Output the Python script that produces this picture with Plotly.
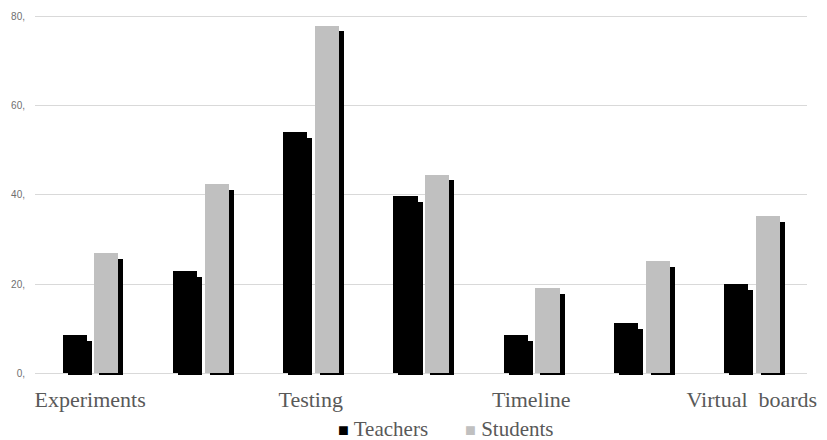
import plotly.graph_objects as go

# Categories (only every other label is printed on the axis)
category_labels = ["Experiments", "", "Testing", "", "Timeline", "", "Virtual\u00a0 boards"]
teachers = [8.6, 22.9, 54.1, 39.7, 8.6, 11.2, 20.0]
students = [26.9, 42.4, 77.9, 44.5, 19.1, 25.2, 35.2]
y_ticks = [0, 20, 40, 60, 80]

series = [
    ("Teachers", teachers, "#000000", -0.25),
    ("Students", students, "#c0c0c0", 0.038),
]

x = list(range(len(category_labels)))
bar_w = 0.219          # bar width in category units
shadow_dx = 0.045      # horizontal shift of the drop shadow
shadow_top = 1.25      # shadow top sits this far below the bar top
shadow_base = -0.45    # shadow reaches a little below zero

fig = go.Figure()

# Drop shadows first so the bars sit on top of them
for name, vals, color, off in series:
    fig.add_trace(go.Bar(
        x=x, y=[v - shadow_top - shadow_base for v in vals], base=shadow_base,
        offset=off + shadow_dx, width=bar_w,
        marker=dict(color="#000000", line=dict(width=0)),
        showlegend=False, hoverinfo="skip",
    ))

for name, vals, color, off in series:
    fig.add_trace(go.Bar(
        x=x, y=vals, name=name,
        offset=off, width=bar_w,
        marker=dict(color=color, line=dict(width=0)),
        showlegend=False,
    ))

# Legend drawn as text rows under the axis
legend_x = [0.390, 0.555]
for (name, vals, color, off), lx in zip(series, legend_x):
    fig.add_annotation(
        xref="paper", yref="paper", x=lx, y=-0.143,
        xanchor="left", yanchor="middle", showarrow=False,
        text=f"<span style='color:{color};font-size:18px'>■</span> {name}",
        font=dict(family="Liberation Serif", size=21, color="#595959"),
    )

fig.update_layout(
    width=827, height=440,
    margin=dict(l=32, r=11, t=13.7, b=63.4),
    paper_bgcolor="white", plot_bgcolor="white",
    barmode="overlay",
    bargap=0,
)
fig.update_xaxes(
    range=[-0.5, len(x) - 0.5],
    tickvals=[i for i, lab in zip(x, category_labels) if lab],
    ticktext=[lab for lab in category_labels if lab],
    tickfont=dict(family="Liberation Serif", size=22, color="#595959"),
    ticklabelstandoff=7,
    showgrid=False, showline=False, zeroline=False, ticks="",
)
fig.update_yaxes(
    range=[-0.8, 80.3],
    tickvals=y_ticks,
    ticktext=[f"{t}," for t in y_ticks],
    tickfont=dict(family="Liberation Sans", size=10, color="#6f6f6f"),
    ticklabelstandoff=9,
    showgrid=True, gridcolor="#d9d9d9", gridwidth=1,
    zeroline=True, zerolinecolor="#d9d9d9", zerolinewidth=1,
    showline=False, ticks="",
)

fig.write_html("out.html")
